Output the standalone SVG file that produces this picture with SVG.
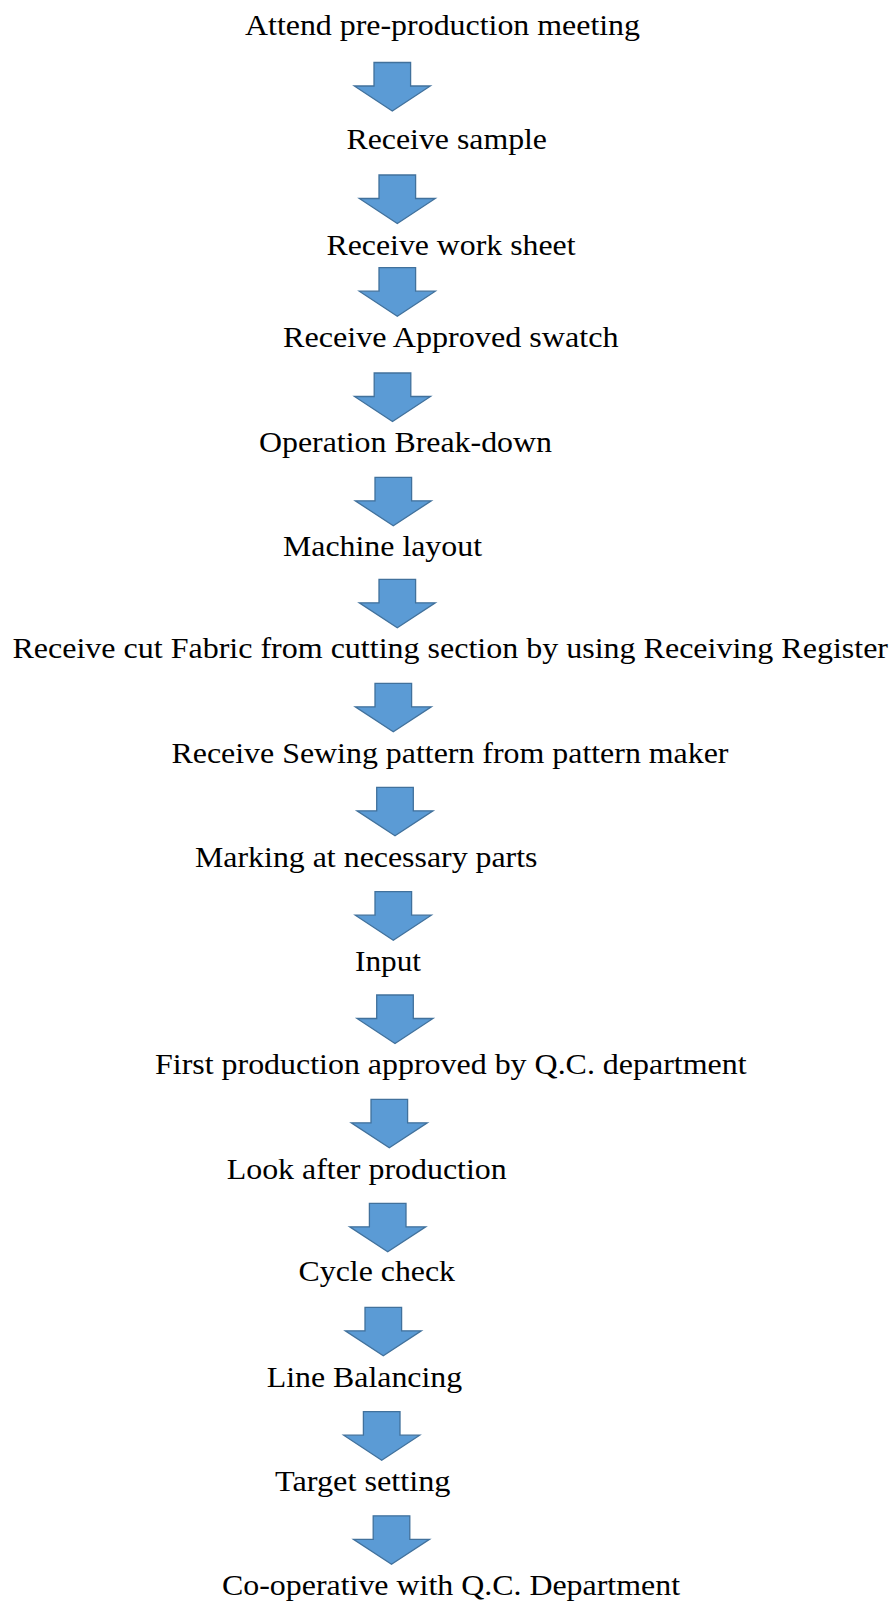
<svg xmlns="http://www.w3.org/2000/svg" xmlns:xlink="http://www.w3.org/1999/xlink" width="893" height="1601" viewBox="0 0 893 1601">
<style>
.t{font-family:'Liberation Serif','Times New Roman',Times,serif;font-size:30px;fill:#000}
.arr{fill:#5B9BD5;stroke:#41719C;stroke-width:1.3;stroke-linejoin:miter}
</style>
<defs>
<path id="a" class="arr" d="M-18.3,0 H18.3 V23.5 H38 L0,48.5 L-38,23.5 H-18.3 Z"/>
</defs>
<rect width="893" height="1601" fill="#fff"/>
<g id="connectors">
<use xlink:href="#a" transform="translate(392.3,62.5)"/>
<use xlink:href="#a" transform="translate(397.3,175)"/>
<use xlink:href="#a" transform="translate(397.3,267.7)"/>
<use xlink:href="#a" transform="translate(392.5,373)"/>
<use xlink:href="#a" transform="translate(393.3,477.3)"/>
<use xlink:href="#a" transform="translate(397.3,579.3)"/>
<use xlink:href="#a" transform="translate(393.3,683.3)"/>
<use xlink:href="#a" transform="translate(395,787.3)"/>
<use xlink:href="#a" transform="translate(393.3,891.7)"/>
<use xlink:href="#a" transform="translate(395,995)"/>
<use xlink:href="#a" transform="translate(389.3,1099.3)"/>
<use xlink:href="#a" transform="translate(387.7,1203.3)"/>
<use xlink:href="#a" transform="translate(383.3,1307.3)"/>
<use xlink:href="#a" transform="translate(381.7,1411.7)"/>
<use xlink:href="#a" transform="translate(391.5,1515.8)"/>
</g>
<g font-family="Liberation Serif, Times New Roman, serif" font-size="30" fill="#000">
<g id="n1"><text class="t" x="245" y="35" textLength="395" lengthAdjust="spacingAndGlyphs">Attend pre-production meeting</text></g>
<g id="n2"><text class="t" x="346.5" y="149" textLength="200.5" lengthAdjust="spacingAndGlyphs">Receive sample</text></g>
<g id="n3"><text class="t" x="326.5" y="254.5" textLength="249" lengthAdjust="spacingAndGlyphs">Receive work sheet</text></g>
<g id="n4"><text class="t" x="283" y="346.7" textLength="335.5" lengthAdjust="spacingAndGlyphs">Receive Approved swatch</text></g>
<g id="n5"><text class="t" x="259" y="451.7" textLength="293" lengthAdjust="spacingAndGlyphs">Operation Break-down</text></g>
<g id="n6"><text class="t" x="283" y="555.7" textLength="199" lengthAdjust="spacingAndGlyphs">Machine layout</text></g>
<g id="n7"><text class="t" x="12.5" y="657.7" textLength="875.5" lengthAdjust="spacingAndGlyphs">Receive cut Fabric from cutting section by using Receiving Register</text></g>
<g id="n8"><text class="t" x="171.5" y="762.7" textLength="557" lengthAdjust="spacingAndGlyphs">Receive Sewing pattern from pattern maker</text></g>
<g id="n9"><text class="t" x="195" y="866.7" textLength="342.5" lengthAdjust="spacingAndGlyphs">Marking at necessary parts</text></g>
<g id="n10"><text class="t" x="355" y="971" textLength="66" lengthAdjust="spacingAndGlyphs">Input</text></g>
<g id="n11"><text class="t" x="155" y="1074.3" textLength="591.5" lengthAdjust="spacingAndGlyphs">First production approved by Q.C. department</text></g>
<g id="n12"><text class="t" x="226.7" y="1179.3" textLength="280" lengthAdjust="spacingAndGlyphs">Look after production</text></g>
<g id="n13"><text class="t" x="298.5" y="1281" textLength="156.5" lengthAdjust="spacingAndGlyphs">Cycle check</text></g>
<g id="n14"><text class="t" x="266.7" y="1387" textLength="195.5" lengthAdjust="spacingAndGlyphs">Line Balancing</text></g>
<g id="n15"><text class="t" x="275" y="1491" textLength="175.5" lengthAdjust="spacingAndGlyphs">Target setting</text></g>
<g id="n16"><text class="t" x="222" y="1595" textLength="458" lengthAdjust="spacingAndGlyphs">Co-operative with Q.C. Department</text></g>
</g>
</svg>
